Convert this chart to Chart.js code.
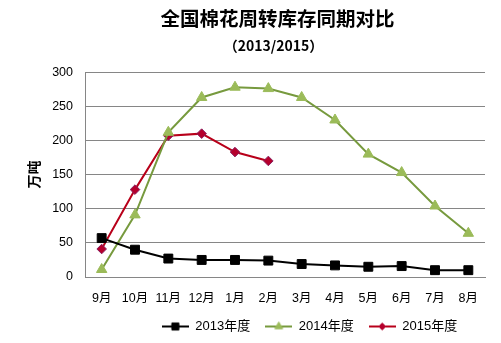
<!DOCTYPE html>
<html>
<head>
<meta charset="utf-8">
<script src="https://cdn.jsdelivr.net/npm/chart.js@4/dist/chart.umd.min.js"></script>
<style>
  html, body { margin: 0; padding: 0; background: #fff; }
  #wrap { width: 501px; height: 343px; }
</style>
</head>
<body>
<div id="wrap"><canvas id="myChart"></canvas></div>
<script>
let months = ['9月', '10月', '11月', '12月', '1月', '2月', '3月', '4月', '5月', '6月', '7月', '8月'];
let stock2013 = [57, 40, 27, 25, 25, 24, 19, 17, 15, 16, 10, 10];
let stock2014 = [11, 91, 212, 263, 278, 276, 263, 230, 180, 153, 104, 64];
let stock2015 = [41, 128, 207, 210, 183, 170];
let yTicks = [0, 50, 100, 150, 200, 250, 300];

const fam = '"Liberation Sans", "Noto Sans CJK SC", sans-serif';
const cjk = '"Noto Sans CJK SC", sans-serif';

// small line + marker picture for the legend
function legendIcon(lineColor, fillColor, style, radius) {
    let c = document.createElement('canvas');
    c.width = 27; c.height = 12;
    let g = c.getContext('2d');
    g.strokeStyle = lineColor;
    g.lineWidth = 2;
    g.beginPath(); g.moveTo(0, 6); g.lineTo(27, 6); g.stroke();
    g.fillStyle = fillColor;
    g.strokeStyle = fillColor;
    g.lineWidth = 1;
    Chart.helpers.drawPoint(g, {pointStyle: style, radius: radius, borderWidth: 1}, 13.5, 6);
    return c;
}

const nudge = {
    id: 'nudge',
    afterLayout(chart) {
        chart.boxes.forEach(b => {
            let dx = 0;
            if (b === chart.legend) dx = 67;
            else if (b.options && b.options.text === '全国棉花周转库存同期对比') dx = 35;
            else if (b.options && b.options.text === '（2013/2015）') dx = 31;
            if (dx) { b.left += dx; b.right += dx; }
        });
    }
};

let ctx = document.getElementById('myChart').getContext('2d');

let lineChart = new Chart(ctx, {
    type: 'line',
    data: {
        labels: months,
        datasets: [{
            label: '2013年度',
            data: stock2013,
            borderColor: '#000000',
            backgroundColor: '#000000',
            borderWidth: 2,
            pointStyle: 'rect',
            pointRadius: 6.3,
            pointBorderWidth: 1,
            tension: 0
        }, {
            label: '2014年度',
            data: stock2014,
            borderColor: '#779a3e',
            backgroundColor: '#9bbb59',
            pointBorderColor: '#9bbb59',
            borderWidth: 2,
            pointStyle: 'triangle',
            pointRadius: 6,
            pointBorderWidth: 1,
            tension: 0
        }, {
            label: '2015年度',
            data: stock2015,
            borderColor: '#b8001a',
            backgroundColor: '#b5002c',
            pointBorderColor: '#8a2060',
            borderWidth: 2,
            pointStyle: 'rectRot',
            pointRadius: 4.8,
            pointBorderWidth: 1,
            tension: 0
        }]
    },
    options: {
        responsive: true,
        maintainAspectRatio: false,
        animation: false,
        layout: { padding: { left: 0, right: 16, top: 0, bottom: 0 } },
        plugins: {
            title: {
                display: true,
                text: '全国棉花周转库存同期对比',
                color: '#000',
                font: { family: cjk, size: 19.5, weight: 'bold' },
                padding: { top: 7, bottom: 0 }
            },
            subtitle: {
                display: true,
                text: '（2013/2015）',
                color: '#000',
                font: { family: cjk, size: 14, weight: 'bold' },
                padding: { top: 7, bottom: 18 }
            },
            legend: {
                position: 'bottom',
                labels: {
                    color: '#000',
                    font: { family: fam, size: 13 },
                    usePointStyle: true,
                    pointStyleWidth: 27,
                    padding: 15,
                    generateLabels(chart) {
                        let icons = [
                            legendIcon('#000000', '#000000', 'rect', 5),
                            legendIcon('#779a3e', '#9bbb59', 'triangle', 4.5),
                            legendIcon('#b8001a', '#b5002c', 'rectRot', 3.5)
                        ];
                        return chart.data.datasets.map((d, i) => ({
                            text: d.label,
                            pointStyle: icons[i],
                            datasetIndex: i,
                            fontColor: '#000',
                            lineWidth: 0,
                            strokeStyle: 'transparent',
                            fillStyle: 'transparent'
                        }));
                    }
                }
            },
            tooltip: { enabled: false }
        },
        scales: {
            x: {
                offset: true,
                grid: { display: false, drawTicks: false },
                border: { display: true, color: '#868686', width: 1 },
                ticks: { color: '#000', font: { family: fam, size: 12.5 }, padding: 14, maxRotation: 0, autoSkip: false },
                afterFit(scale) { scale.height = 28; }
            },
            y: {
                min: 0,
                max: 300,
                afterBuildTicks(scale) { scale.ticks = yTicks.map(v => ({ value: v })); },
                grid: { color: '#868686', drawTicks: false },
                border: { display: true, color: '#868686', width: 1 },
                ticks: { color: '#000', font: { family: fam, size: 12.5 }, padding: 12 },
                title: {
                    display: true,
                    text: '万吨',
                    color: '#000',
                    font: { family: cjk, size: 14, weight: 'bold' },
                    padding: { top: 25, bottom: 0 }
                },
                afterFit(scale) { scale.width = 85; }
            }
        }
    },
    plugins: [nudge]
});
</script>
</body>
</html>
